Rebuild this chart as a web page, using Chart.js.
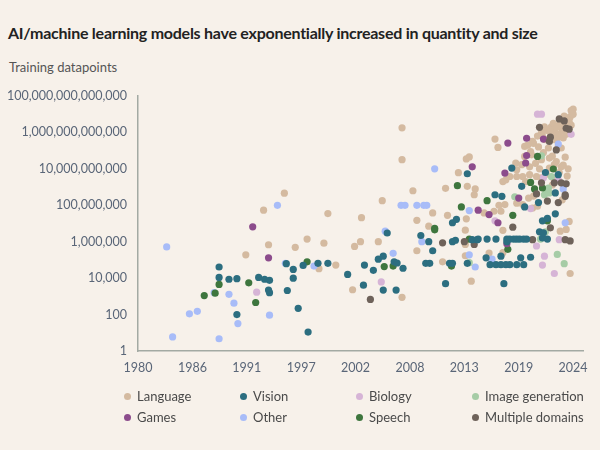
<!DOCTYPE html>
<html>
<head>
<meta charset="utf-8">
<script src="https://cdn.jsdelivr.net/npm/chart.js@4/dist/chart.umd.min.js"></script>
<style>
  body { margin: 0; background: #f7f1ea; }
  #wrap { position: relative; width: 600px; height: 450px; background: #f7f1ea; font-family: Lato, sans-serif; }
  #title { position: absolute; left: 8px; top: 23px; font-size: 16px; line-height: 20px; font-weight: bold; color: #222; white-space: nowrap; letter-spacing: -0.25px; }
  #subtitle { position: absolute; left: 9px; top: 59px; font-size: 13px; line-height: 16px; color: #555; }
  #myChart { position: absolute; left: 0; top: 0; }
  #legend { position: absolute; left: 124px; top: 388px; display: grid; grid-template-columns: 116px 116px 116px 120px; row-gap: 5px; font-size: 13px; color: #4a4a4a; }
  .item { display: flex; align-items: center; height: 16px; white-space: nowrap; }
  .dot { width: 7px; height: 7px; border-radius: 50%; margin-right: 6px; }
</style>
</head>
<body>
<div id="wrap">
  <div id="title">AI/machine learning models have exponentially increased in quantity and size</div>
  <div id="subtitle">Training datapoints</div>
  <canvas id="myChart" width="600" height="450"></canvas>
  <div id="legend"></div>
</div>
<script>
// tick values
const xTicks = [1980, 1985.5, 1991, 1996.5, 2002, 2007.5, 2013, 2018.5, 2024]
const yTicks = [1, 100, 1e4, 1e6, 1e8, 1e10, 1e12, 1e14]

// [year, training datapoints]
const language = [
  [1990.9, 1.9e5], [1992.7, 5.4e7], [1993.2, 6.8e5], [1994.8, 4.6e8], [1995.9, 4.9e5],
  [1997.1, 1.4e6], [1998.3, 3.3e4], [1998.8, 8.3e5], [1999.2, 3.5e7], [2000.0, 5.2e4],
  [2001.7, 2.3e3], [2001.9, 5.5e5], [2002.5, 1.0e6], [2002.6, 2.1e7], [2004.3, 1.0e6],
  [2004.7, 1.8e8], [2006.7, 1.8e12], [2006.7, 3.2e10], [2006.7, 8.9e2], [2007.8, 6.3e8],
  [2008.2, 1.5e7], [2008.2, 3.2e5], [2009.4, 7.1e6], [2009.8, 3.8e7], [2010.8, 7.9e4],
  [2011.1, 8.5e8], [2011.3, 2.8e7], [2012.4, 6.2e9], [2013.1, 1.7e5], [2013.1, 7.1e5],
  [2013.1, 4.3e6], [2013.2, 1.8e7], [2013.2, 3.5e10], [2013.5, 4.5e10], [2013.3, 1.1e9],
  [2013.7, 6.8e3], [2014.0, 3.8e8], [2014.1, 7.9e8], [2015.0, 3.8e7], [2015.5, 2.4e5],
  [2016.0, 4.7e7], [2016.7, 4.7e7], [2016.9, 4.2e6], [2016.9, 2.5e5], [2016.1, 4.3e11],
  [2016.4, 1.5e11], [2016.5, 1.0e8], [2017.1, 1.1e8], [2017.2, 2.5e9], [2016.9, 2.0e9],
  [2017.6, 3.8e9], [2018.2, 2.1e10], [2018.3, 8.9e9], [2018.3, 3.8e9], [2018.3, 1.3e8],
  [2018.8, 1.7e10], [2018.9, 3.8e9], [2018.9, 1.1e8], [2019.1, 4.8e10], [2019.1, 1.7e11],
  [2019.2, 2.0e9], [2019.5, 2.5e8], [2019.6, 4.8e9], [2019.6, 1.3e10], [2019.7, 8.9e10],
  [2019.8, 5.9e10], [2019.9, 7.1e7], [2020.0, 3.2e8], [2020.0, 2.5e11], [2020.2, 2.0e10],
  [2020.3, 3.8e9], [2020.4, 6.3e11], [2020.4, 8.9e7], [2020.8, 3.2e9], [2020.8, 3.2e10],
  [2020.8, 1.0e12], [2021.2, 4.0e11], [2021.3, 1.3e12], [2021.5, 1.4e11], [2021.6, 3.9e10],
  [2021.6, 1.1e10], [2021.8, 2.0e12], [2021.9, 7.1e11], [2021.9, 1.3e9], [2022.0, 3.2e12],
  [2022.1, 1.7e10], [2022.2, 1.0e12], [2022.3, 2.5e10], [2022.4, 5.0e11], [2022.6, 2.5e12],
  [2022.6, 6.3e9], [2022.7, 3.8e6], [2022.8, 1.4e11], [2022.8, 1.3e10], [2022.8, 4.0e12],
  [2022.9, 1.3e12], [2022.9, 2.0e8], [2023.0, 5.0e11], [2023.1, 7.9e12], [2023.2, 4.4e10],
  [2023.3, 7.9e11], [2023.3, 4.7e6], [2023.4, 2.0e12], [2023.4, 4.0e9], [2023.5, 5.0e12],
  [2023.5, 1.0e10], [2023.6, 4.0e12], [2023.6, 1.3e7], [2023.7, 7.1e12], [2023.7, 1.8e4],
  [2023.8, 1.6e13], [2023.9, 1.0e13], [2024.0, 1.9e13],
  [2019.4, 2.0e11], [2019.9, 3.2e11], [2020.5, 1.6e11], [2020.9, 6.3e11], [2021.1, 2.0e12],
  [2021.7, 1.0e12], [2022.1, 4.0e11], [2022.4, 2.0e12], [2022.6, 7.9e11], [2023.0, 2.5e12],
  [2023.2, 3.2e12], [2021.0, 7.9e10], [2021.9, 5.0e10], [2022.5, 1.6e11], [2020.6, 1.0e10],
  [2021.3, 5.0e9], [2022.0, 3.2e9], [2023.0, 1.6e10], [2023.8, 2.5e12], [2024.0, 1.0e13]
]
const vision = [
  [1988.2, 4.1e4], [1988.2, 1.1e4], [1989.2, 8.7e3], [1990.0, 9.3e3], [1990.0, 1.0e2],
  [1992.2, 1.1e4], [1992.8, 8.7e3], [1993.3, 7.6e3], [1993.2, 2.2e3], [1993.3, 1.6e3],
  [1995.0, 6.2e4], [1995.7, 3.0e4], [1995.7, 1.0e4], [1995.1, 2.1e3], [1996.2, 2.2e2],
  [1997.2, 1.1e1], [1996.7, 5.0e4], [1998.2, 6.5e4], [1999.2, 6.5e4], [2001.2, 1.6e4],
  [2002.8, 4.1e3], [2002.9, 5.2e4], [2003.8, 2.7e4], [2004.3, 1.1e5], [2004.8, 1.6e5],
  [2004.8, 2.2e3], [2005.2, 3.0e6], [2005.9, 7.9e4], [2006.1, 2.2e3], [2006.2, 6.8e4],
  [2006.8, 3.5e4], [2008.6, 2.2e6], [2009.1, 6.5e4], [2009.4, 1.0e6], [2009.5, 6.5e4],
  [2009.8, 3.2e5], [2011.1, 5.0e3], [2011.5, 6.5e4], [2011.8, 6.5e4], [2011.8, 1.0e6],
  [2011.8, 1.1e7], [2012.1, 1.2e6], [2012.2, 1.7e7], [2013.3, 6.5e4], [2013.3, 5.4e9],
  [2013.8, 1.3e6], [2014.3, 1.3e6], [2014.4, 1.4e6], [2015.2, 1.3e5], [2015.3, 1.4e6],
  [2015.6, 5.5e4], [2016.1, 3.8e8], [2016.2, 1.4e6], [2016.2, 5.5e4], [2016.7, 1.6e5],
  [2016.7, 5.5e4], [2016.8, 3.1e8], [2017.0, 5.0e3], [2017.2, 5.5e4], [2017.3, 1.4e6],
  [2017.3, 1.0e6], [2017.6, 1.4e6], [2017.6, 5.5e4], [2017.8, 1.1e10], [2018.0, 1.4e6],
  [2018.3, 1.4e6], [2018.3, 5.5e4], [2018.6, 1.4e6], [2018.7, 1.3e5], [2018.8, 1.1e9],
  [2019.0, 1.4e6], [2019.0, 5.5e4], [2019.1, 8.1e7], [2019.3, 1.4e6], [2019.7, 1.4e5],
  [2020.5, 1.4e8], [2020.6, 3.5e6], [2020.9, 1.4e7], [2020.9, 1.6e6], [2021.0, 3.1e6],
  [2021.2, 6.3e9], [2021.4, 1.9e7], [2021.4, 1.4e6], [2022.2, 4.8e8], [2022.2, 3.4e7],
  [2022.5, 4.8e9]
]
const biology = [
  [1992.0, 1.7e3], [2004.6, 6.2e3], [2016.1, 1.4e7], [2019.7, 6.6e7], [2020.3, 5.8e5],
  [2020.4, 1.0e13], [2020.8, 1.0e13], [2020.9, 5.2e4], [2021.0, 3.2e9], [2021.1, 1.6e5],
  [2022.1, 1.8e4], [2022.5, 2.5e9], [2022.6, 1.3e6], [2023.8, 7.9e11]
]
const imageGen = [
  [2013.5, 7.1e4], [2018.1, 2.9e8], [2020.7, 1.4e6], [2020.8, 5.2e10], [2021.1, 3.8e8],
  [2021.2, 3.5e6], [2021.3, 6.3e8], [2021.5, 8.9e8], [2021.6, 4.8e8], [2021.8, 3.8e9],
  [2022.4, 2.0e5], [2023.1, 6.2e4]
]
const games = [
  [1991.6, 6.6e6], [1993.2, 1.3e5], [2013.8, 1.3e10], [2014.4, 5.4e7], [2015.5, 3.1e7],
  [2016.4, 1.1e7], [2017.1, 5.9e9], [2017.3, 7.8e5], [2017.4, 2.6e11], [2018.5, 2.5e8],
  [2019.2, 2.1e10], [2019.3, 5.4e10], [2019.3, 4.8e11], [2021.0, 4.3e11]
]
const other = [
  [1982.9, 5.2e5], [1983.5, 5.9], [1985.2, 1.1e2], [1986.0, 1.5e2], [1987.7, 1.6e3],
  [1988.2, 4.7], [1989.2, 1.3e3], [1989.7, 4.2e2], [1990.1, 3.2e1], [1993.3, 9.3e1],
  [1994.1, 1.0e8], [1994.9, 6.5e4], [1997.8, 4.6e4], [2005.0, 3.8e6], [2005.8, 2.3e5],
  [2006.6, 1.0e8], [2007.0, 1.0e8], [2008.2, 1.0e8], [2008.7, 1.0e6], [2008.9, 1.0e8],
  [2009.2, 1.0e8], [2010.0, 1.0e10], [2013.5, 5.1e7], [2013.5, 1.9e5], [2014.1, 4.1e4],
  [2015.8, 1.1e5], [2022.5, 2.3e11], [2023.0, 7.9e8], [2023.2, 1.1e7]
]
const speech = [
  [1986.7, 1.1e3], [1987.8, 1.5e3], [1988.2, 4.5e3], [1991.2, 5.5e3], [1991.9, 4.6e2],
  [1997.1, 7.9e4], [2004.9, 4.3e4], [2005.8, 4.6e4], [2010.0, 5.5e6], [2010.0, 4.5e6],
  [2011.7, 4.6e4], [2012.3, 1.2e9], [2012.7, 8.1e7], [2013.5, 1.4e6], [2015.3, 1.8e8],
  [2017.4, 3.8e5], [2017.9, 2.8e7], [2019.7, 1.8e9], [2020.1, 7.9e8], [2020.4, 4.8e10],
  [2020.9, 8.9e8], [2021.4, 1.4e7], [2022.0, 9.8e9]
]
const multi = [
  [2003.5, 6.8e2], [2010.8, 8.7e5], [2013.0, 1.0e6], [2014.0, 7.1e5], [2017.9, 6.3e6],
  [2019.9, 1.3e6], [2020.3, 4.2e8], [2020.6, 1.9e12], [2020.8, 1.7e9], [2021.4, 1.7e8],
  [2021.6, 3.2e11], [2021.7, 5.5e11], [2021.7, 5.8e6], [2022.1, 1.7e9], [2022.3, 1.1e11],
  [2022.5, 1.4e8], [2022.6, 5.5e12], [2022.8, 1.7e9], [2023.1, 4.3e12], [2023.2, 3.8e8],
  [2023.2, 3.1e8], [2023.2, 1.3e6], [2023.3, 1.7e12], [2023.3, 1.5e9], [2023.6, 1.5e12],
  [2023.7, 1.1e6]
]

const series = [
  { label: 'Language', data: language, color: '#d4baa0', order: 8 },
  { label: 'Vision', data: vision, color: '#2c6e80', order: 1 },
  { label: 'Biology', data: biology, color: '#d6b4d6', order: 6 },
  { label: 'Image generation', data: imageGen, color: '#a6cca6', order: 5 },
  { label: 'Games', data: games, color: '#8c4c8c', order: 3 },
  { label: 'Other', data: other, color: '#a8bcf8', order: 7 },
  { label: 'Speech', data: speech, color: '#3e763e', order: 4 },
  { label: 'Multiple domains', data: multi, color: '#6e625a', order: 2 }
]

const tickFont = { family: 'Lato', size: 12.5 }
const axisColor = '#a3aaa3'

const config = {
  type: 'scatter',
  data: {
    datasets: series.map(s => ({
      label: s.label,
      data: s.data.map(p => ({ x: p[0], y: p[1] })),
      backgroundColor: s.color,
      borderWidth: 0,
      pointRadius: 3.6,
      pointHoverRadius: 3.6,
      order: s.order
    }))
  },
  options: {
    responsive: false,
    animation: false,
    layout: { padding: { top: 96, right: 17, bottom: 69, left: 0 } },
    plugins: {
      legend: { display: false },
      tooltip: { enabled: false }
    },
    scales: {
      x: {
        type: 'linear',
        min: 1980,
        max: 2025,
        grid: { display: false, drawTicks: false },
        border: { color: axisColor, width: 1.5 },
        afterBuildTicks: axis => { axis.ticks = xTicks.map(v => ({ value: v })) },
        afterFit: axis => { axis.height = 30 },
        ticks: {
          padding: 9,
          color: '#5a6678',
          font: tickFont,
          maxRotation: 0,
          autoSkip: false,
          callback: v => String(Math.round(v))
        }
      },
      y: {
        type: 'logarithmic',
        min: 1,
        max: 1e14,
        grid: { display: false, drawTicks: false },
        border: { color: axisColor, width: 1.5 },
        afterBuildTicks: axis => { axis.ticks = yTicks.map(v => ({ value: v })) },
        afterFit: axis => { axis.width = 138 },
        ticks: {
          padding: 11,
          color: '#5a6678',
          font: tickFont,
          callback: v => Number(v).toLocaleString('en-US')
        }
      }
    }
  }
}

var myChart = new Chart(document.getElementById('myChart'), config)

// legend in a 4-column grid like the original
const legend = document.getElementById('legend')
series.forEach(s => {
  const item = document.createElement('div')
  item.className = 'item'
  item.innerHTML = '<span class="dot" style="background:' + s.color + '"></span>' + s.label
  legend.appendChild(item)
})
</script>
</body>
</html>
